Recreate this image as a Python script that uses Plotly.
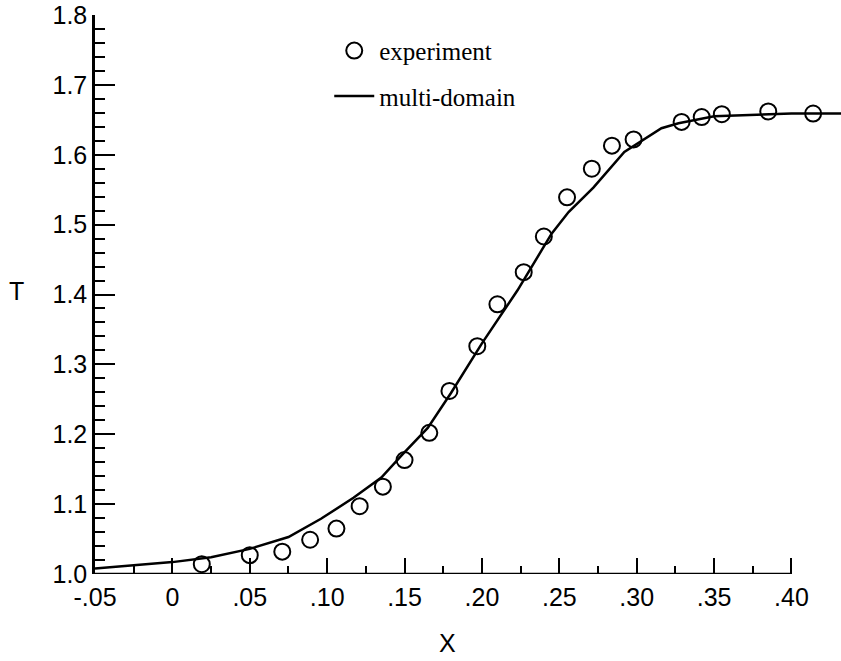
import plotly.graph_objects as go

# experiment data (circles)
exp_x = [0.019, 0.050, 0.071, 0.089, 0.106, 0.121, 0.136, 0.150, 0.166, 0.179, 0.197,
         0.210, 0.227, 0.240, 0.255, 0.271, 0.284, 0.298, 0.329, 0.342, 0.355, 0.385, 0.414]
exp_T = [1.014, 1.027, 1.032, 1.049, 1.065, 1.097, 1.125, 1.163, 1.202, 1.262, 1.326,
         1.386, 1.432, 1.483, 1.539, 1.580, 1.613, 1.622, 1.647, 1.654, 1.658, 1.662, 1.659]

# multi-domain computation (line)
md_x = [-0.05, -0.025, 0.0, 0.025, 0.05, 0.075, 0.096, 0.117, 0.135, 0.149, 0.165, 0.180,
        0.200, 0.223, 0.245, 0.256, 0.272, 0.292, 0.316, 0.327, 0.35, 0.40, 0.432]
md_T = [1.008, 1.012, 1.017, 1.024, 1.036, 1.053, 1.079, 1.109, 1.138, 1.172, 1.209, 1.259,
        1.330, 1.406, 1.487, 1.518, 1.553, 1.604, 1.638, 1.645, 1.655, 1.659, 1.659]

# tick labels
x_tickvals = [-0.05, 0.0, 0.05, 0.10, 0.15, 0.20, 0.25, 0.30, 0.35, 0.40]
x_ticktext = ["-.05", "0", ".05", ".10", ".15", ".20", ".25", ".30", ".35", ".40"]
x_minorvals = [-0.025, 0.025, 0.075, 0.125, 0.175, 0.225, 0.275, 0.325, 0.375]
y_tickvals = [1.0, 1.1, 1.2, 1.3, 1.4, 1.5, 1.6, 1.7, 1.8]
y_ticktext = ["1.0", "1.1", "1.2", "1.3", "1.4", "1.5", "1.6", "1.7", "1.8"]

sans = "Liberation Sans, Arial, sans-serif"
serif = "Liberation Serif, Times New Roman, serif"

fig = go.Figure()
fig.add_trace(go.Scatter(
    x=exp_x, y=exp_T, mode="markers", name="experiment", legendgroup="a",
    marker=dict(symbol="circle-open", size=16, color="black", line=dict(width=2, color="black")),
))
fig.add_trace(go.Scatter(
    x=md_x, y=md_T, mode="lines", name="multi-domain", legendgroup="b",
    line=dict(color="black", width=2.5),
))

# x axis line only spans the labelled range
fig.add_shape(type="line", xref="x", yref="y",
              x0=x_tickvals[0], x1=x_tickvals[-1], y0=y_tickvals[0], y1=y_tickvals[0],
              line=dict(color="black", width=2.5))

fig.update_layout(
    width=841, height=661,
    margin=dict(l=95, r=0, t=15, b=87),
    paper_bgcolor="white", plot_bgcolor="white",
    showlegend=True,
    legend=dict(x=0.314, y=0.977, xanchor="left", yanchor="top",
                font=dict(family=serif, size=25, color="black"),
                itemwidth=40,
                tracegroupgap=10, bgcolor="rgba(0,0,0,0)"),
    xaxis=dict(
        range=[x_tickvals[0], md_x[-1]], showgrid=False, zeroline=False, showline=False,
        tickmode="array", tickvals=x_tickvals, ticktext=x_ticktext,
        ticks="inside", ticklen=16, tickwidth=2, tickcolor="black",
        minor=dict(tickmode="array", tickvals=x_minorvals, ticks="inside", ticklen=8,
                   tickwidth=2, tickcolor="black", showgrid=False),
        tickfont=dict(family=sans, size=25, color="black"),
        ticklabelstandoff=6,
    ),
    yaxis=dict(
        range=[y_tickvals[0], y_tickvals[-1]], showgrid=False, zeroline=False,
        showline=True, linecolor="black", linewidth=2.5,
        tickmode="array", tickvals=y_tickvals, ticktext=y_ticktext,
        ticks="inside", ticklen=20, tickwidth=2, tickcolor="black",
        minor=dict(dtick=0.02, tick0=1.0, ticks="inside", ticklen=10,
                   tickwidth=2, tickcolor="black", showgrid=False),
        tickfont=dict(family=sans, size=25, color="black"),
    ),
    annotations=[
        dict(text="T", xref="paper", yref="paper", x=-0.105, y=0.507, showarrow=False,
             xanchor="center", yanchor="middle", font=dict(family=sans, size=25, color="black")),
        dict(text="X", xref="paper", yref="paper", x=0.472, y=-0.124, showarrow=False,
             xanchor="center", yanchor="middle", font=dict(family=sans, size=25, color="black")),
    ],
)

fig.write_html("out.html")
